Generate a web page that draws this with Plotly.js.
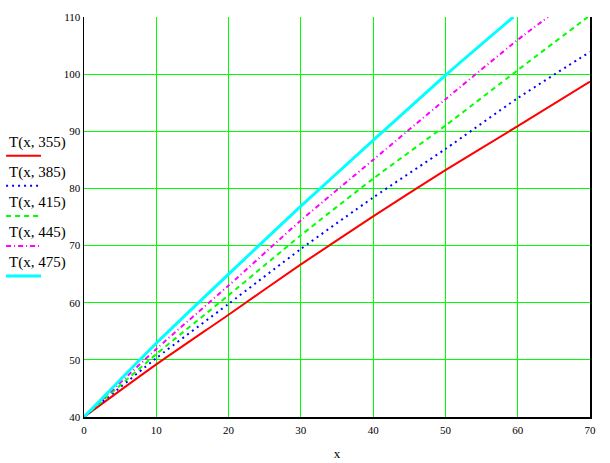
<!DOCTYPE html>
<html>
<head>
<meta charset="utf-8">
<script src="https://cdn.plot.ly/plotly-3.0.1.min.js"></script>
<style>html,body{margin:0;padding:0;background:#fff;}#chart{width:610px;height:463px;}</style>
</head>
<body>
<div id="chart"></div>
<script>
// Data
var seriesNames = ["T(x, 355)", "T(x, 385)", "T(x, 415)", "T(x, 445)", "T(x, 475)"];
var x355 = [0, 10, 20, 30, 40, 50, 60, 70];
var y355 = [40, 49.2, 57.9, 66.7, 75.1, 83.2, 90.9, 98.7];
var x385 = [0, 10, 20, 30, 40, 50, 60, 70];
var y385 = [40, 50.3, 59.8, 69.4, 78.4, 86.9, 95.8, 103.9];
var x415 = [0, 10, 20, 30, 40, 50, 60, 69.7];
var y415 = [40, 51.0, 61.3, 71.8, 81.7, 91.0, 100.7, 110];
var x445 = [0, 10, 20, 30, 40, 50, 60, 64.2];
var y445 = [40, 51.9, 63.0, 74.4, 85.0, 95.6, 106.0, 110];
var x475 = [0, 10, 20, 30, 40, 50, 59.4];
var y475 = [40, 52.9, 65.0, 76.9, 88.4, 99.8, 110];
var xTicks = [0, 10, 20, 30, 40, 50, 60, 70];
var yTicks = [40, 50, 60, 70, 80, 90, 100, 110];

var xs = [x355, x385, x415, x445, x475];
var ys = [y355, y385, y415, y445, y475];
var colors = ["#ff0000", "#0000ff", "#00ff00", "#ff00ff", "#00ffff"];
var dashes = ["solid", "2px,4px", "5px,4px", "5px,3px,1px,3px", "solid"];
var widths = [2, 2, 2, 2, 3];

var traces = [];
for (var i = 0; i < xs.length; i++) {
  traces.push({
    x: xs[i], y: ys[i], type: "scatter", mode: "lines", name: seriesNames[i],
    line: {color: colors[i], width: widths[i], dash: dashes[i], shape: "spline", smoothing: 0.6},
    showlegend: false, hoverinfo: "skip"
  });
}

// manual Mathcad-style legend (label above, line sample below)
var annotations = [];
var shapes = [];
var textY = [0.6858, 0.6108, 0.5375, 0.4625, 0.3875];
var lineY = [0.6533, 0.5783, 0.5025, 0.4275, 0.3525];
for (var j = 0; j < seriesNames.length; j++) {
  annotations.push({
    xref: "paper", yref: "paper", x: -0.152, y: textY[j],
    xanchor: "left", yanchor: "middle", showarrow: false,
    text: seriesNames[j],
    font: {family: "Liberation Serif, Times New Roman, serif", size: 15, color: "#000"}
  });
  shapes.push({
    type: "line", xref: "paper", yref: "paper",
    x0: -0.154, x1: -0.085, y0: lineY[j], y1: lineY[j],
    line: {color: colors[j], width: widths[j], dash: dashes[j]}
  });
}

var tickFont = {family: "Liberation Serif, Times New Roman, serif", size: 11, color: "#000"};

var layout = {
  width: 610, height: 463,
  margin: {l: 84, r: 20, t: 17, b: 46},
  paper_bgcolor: "#ffffff", plot_bgcolor: "#ffffff",
  showlegend: false,
  xaxis: {
    range: [0, 70], tickvals: xTicks, ticktext: xTicks.map(String),
    showgrid: true, gridcolor: "#00ff00", gridwidth: 1,
    zeroline: false, showline: true, linecolor: "#000", linewidth: 1.5,
    mirror: false, ticks: "", tickfont: tickFont, ticklabelstandoff: 2,
    title: {text: "x", font: {family: "Liberation Serif, Times New Roman, serif", size: 13, color: "#000"}, standoff: 14}
  },
  yaxis: {
    range: [40, 110], tickvals: yTicks, ticktext: yTicks.map(String),
    showgrid: true, gridcolor: "#00ff00", gridwidth: 1,
    zeroline: false, showline: true, linecolor: "#000", linewidth: 1.5,
    mirror: true, ticks: "", tickfont: tickFont, ticklabelstandoff: 0
  },
  annotations: annotations,
  shapes: shapes
};

Plotly.newPlot("chart", traces, layout, {staticPlot: true, displayModeBar: false});
</script>
</body>
</html>
